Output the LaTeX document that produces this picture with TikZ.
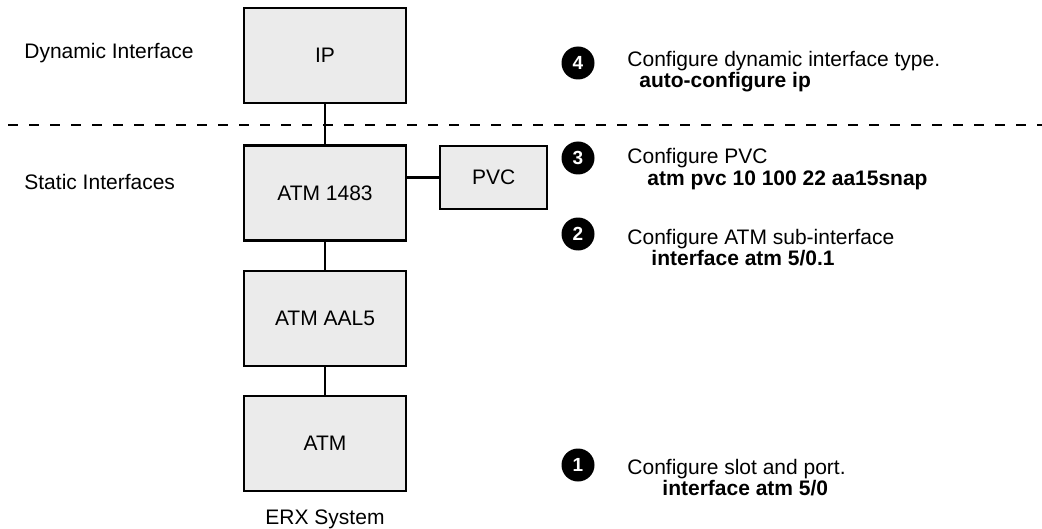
\documentclass[tikz,border=0pt]{standalone}
\usepackage{fontspec}
\setmainfont{Liberation Sans}
\usetikzlibrary{positioning}
\definecolor{boxgray}{HTML}{EBEBEB}
\begin{document}
\begin{tikzpicture}[x=0.5pt,y=-0.5pt,
	font=\fontsize{10.5}{12.6}\selectfont,
	layer/.style={draw,fill=boxgray,line width=1.1pt,minimum width=81pt,minimum height=47.5pt,inner sep=0pt},
	stepnum/.style={circle,fill=black,text=white,minimum size=16.5pt,inner sep=0pt,font=\fontsize{9.5}{11}\selectfont\bfseries},
	txt/.style={anchor=base west,inner sep=0pt},
	cmd/.style={anchor=base west,inner sep=0pt,font=\fontsize{10.5}{12.6}\selectfont\bfseries}]
	\useasboundingbox (0,0) rectangle (1042,529);
	
	% dynamic / static split
	\draw[line width=1pt,dash pattern=on 5pt off 5.5pt] (8,125) -- (1042,125);
	\node[txt] (dynlbl) at (24,59) {Dynamic Interface};
	\node[txt] (statlbl) at (24,190) {Static Interfaces};
	
	% interface stack
	\node[layer] (ip) at (325,55.5) {IP};
	\node[layer] (atm1483) at (325,193) {ATM 1483};
	\node[layer,below=14pt of atm1483] (aal5) {ATM AAL5};
	\node[layer,below=14pt of aal5] (atm) {ATM};
	\node[layer,minimum width=53.5pt,minimum height=31.5pt,anchor=north west] (pvc) at (439,145) {PVC};
	\node[anchor=base] (erx) at (325,524) {ERX System};
	
	\draw[line width=1.1pt] (ip) -- (atm1483);
	\draw[line width=1.1pt] (atm1483) -- (aal5);
	\draw[line width=1.1pt] (aal5) -- (atm);
	\draw[line width=1.1pt] (pvc.west) -- (pvc.west -| atm1483.east);
	
	% steps
	\node[stepnum] (s4) at (578,63) {4};
	\node[txt] (s4a) at (627,67) {Configure dynamic interface type.};
	\node[cmd] (s4b) at (639,88) {auto-configure ip};
	
	\node[stepnum] (s3) at (578,158) {3};
	\node[txt] (s3a) at (627,164) {Configure PVC};
	\node[cmd] (s3b) at (647,185) {atm pvc 10 100 22 aa15snap};
	
	\node[stepnum] (s2) at (578,234) {2};
	\node[txt] (s2a) at (627,244) {Configure ATM sub-interface};
	\node[cmd] (s2b) at (651,265) {interface atm 5/0.1};
	
	\node[stepnum] (s1) at (578,465) {1};
	\node[txt] (s1a) at (627,474) {Configure slot and port.};
	\node[cmd] (s1b) at (662,495) {interface atm 5/0};
\end{tikzpicture}
\end{document}
